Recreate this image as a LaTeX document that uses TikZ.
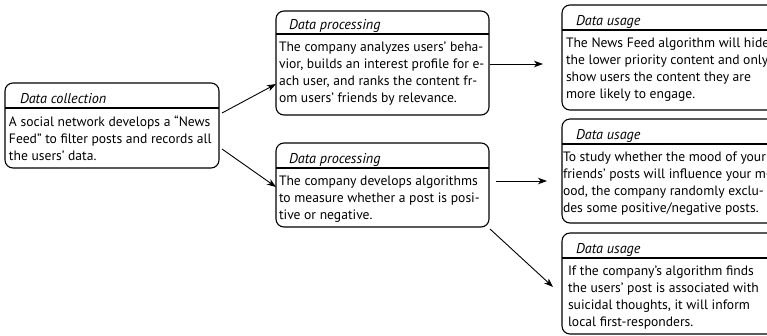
\documentclass[tikz,border=0pt]{standalone}
\usepackage{fontspec}
\setmainfont{PT Sans}
\usetikzlibrary{arrows.meta}
\begin{document}
\begin{tikzpicture}[x=1pt,y=-1pt,
  every node/.style={inner sep=0pt,outer sep=0pt},
  frame/.style={draw,line width=1.1pt,rounded corners=8pt,anchor=north west},
  ttl/.style={anchor=base west,font=\fontsize{14.2}{17}\selectfont\itshape},
  body/.style={anchor=north west,align=left,font=\fontsize{13.6}{17}\selectfont},
  bar/.style={line width=1.1pt},
  conn/.style={line width=0.9pt,-{Stealth[length=9pt,width=6.5pt,inset=2.5pt]}}]
\path[use as bounding box,clip] (0,0) rectangle (767,335);
% boxes
\node[frame,minimum width=214pt,minimum height=85pt] (L) at (5,83) {};
\node[frame,minimum width=213pt,minimum height=104pt] (P1) at (276,11) {};
\node[frame,minimum width=213pt,minimum height=84pt] (P2) at (276,143) {};
\node[frame,minimum width=240pt,minimum height=105pt] (U1) at (562,5) {};
\node[frame,minimum width=240pt,minimum height=104pt] (U2) at (562,119) {};
\node[frame,minimum width=240pt,minimum height=101pt] (U3) at (562,233) {};
% title bars
\draw[bar] (L.west |- 0,108) -- (L.east |- 0,108);
\draw[bar] (P1.west |- 0,34) -- (P1.east |- 0,34);
\draw[bar] (P2.west |- 0,168) -- (P2.east |- 0,168);
\draw[bar] (U1.west |- 0,30) -- (U1.east |- 0,30);
\draw[bar] (U2.west |- 0,144) -- (U2.east |- 0,144);
\draw[bar] (U3.west |- 0,258) -- (U3.east |- 0,258);
% titles
\node[ttl] (Lt) at (20,103) {Data collection};
\node[ttl] (P1t) at (289,29) {Data processing};
\node[ttl] (P2t) at (289,163) {Data processing};
\node[ttl] (U1t) at (576,25) {Data usage};
\node[ttl] (U2t) at (576,139) {Data usage};
\node[ttl] (U3t) at (576,253) {Data usage};
% bodies (top = first baseline - 10)
\node[body] (Lb) at (9,116) {\rule{0pt}{10pt}A social network develops a “News\\Feed” to filter posts and records all\\the users’ data.};
\node[body] (P1b) at (279,41) {\rule{0pt}{10pt}The company analyzes users’ beha-\\vior, builds an interest profile for e-\\ach user, and ranks the content fr-\\om users’ friends by relevance.};
\node[body] (P2b) at (279,175) {\rule{0pt}{10pt}The company develops algorithms\\to measure whether a post is posi-\\tive or negative.};
\node[body] (U1b) at (566,37) {\rule{0pt}{10pt}The News Feed algorithm will hide\\the lower priority content and only\\show users the content they are\\more likely to engage.};
\node[body] (U2b) at (563,151) {\rule{0pt}{10pt}To study whether the mood of your\\friends’ posts will influence your m-\\ood, the company randomly exclu-\\des some positive/negative posts.};
\node[body] (U3b) at (568,265) {\rule{0pt}{10pt}If the company’s algorithm finds\\the users’ post is associated with\\suicidal thoughts, it will inform\\local first-responders.};
% connector ends
\coordinate (a1s) at (222,113);
\coordinate (a2s) at (222,149);
\coordinate (a3s) at (490,64);
\coordinate (a3e) at (543,64);
\coordinate (a4s) at (496,181);
\coordinate (a4e) at (547,181);
\coordinate (a5s) at (490,229);
\coordinate (a5e) at (553,287);
% connectors
\draw[conn] (a1s) -- (P1.west |- 0,84);
\draw[conn] (a2s) -- (P2.west |- 0,187);
\draw[conn] (a3s) -- (a3e);
\draw[conn] (a4s) -- (a4e);
\draw[conn] (a5s) -- (a5e);
\end{tikzpicture}
\end{document}
